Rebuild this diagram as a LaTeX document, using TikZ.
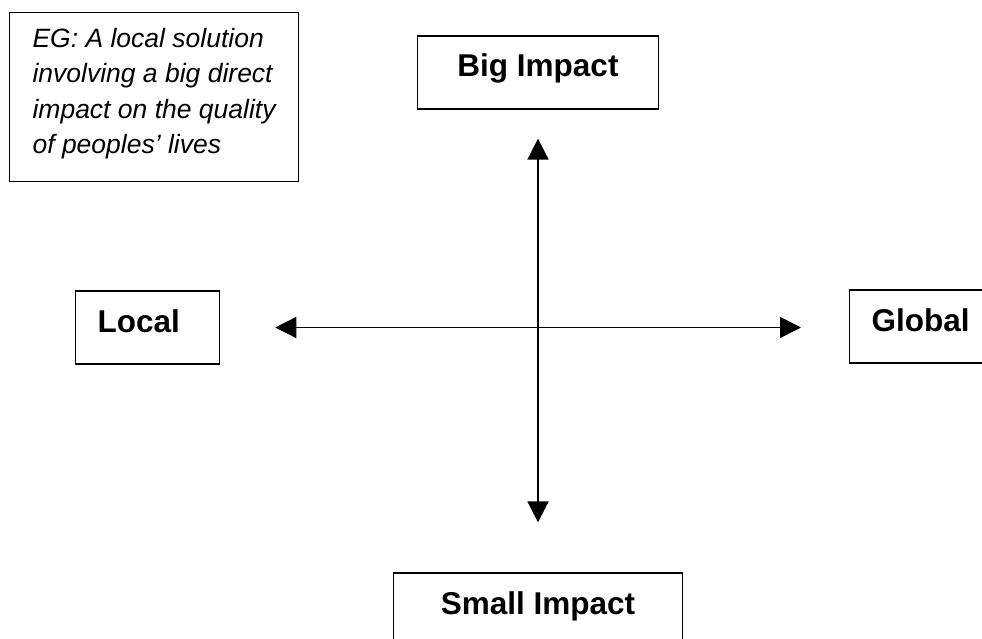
\documentclass[tikz,border=0pt]{standalone}
\usepackage{fontspec}
\setmainfont{Liberation Sans}
\usetikzlibrary{arrows.meta}

\begin{document}
\begin{tikzpicture}[x=1pt, y=-1pt,
    box/.style = {draw, line width=1.3pt, inner sep=0pt,
      font=\bfseries\fontsize{31.5}{36}\selectfont,
      text height=41pt, text depth=32pt},
    sidebox/.style = {box, inner xsep=22pt, text width=100pt, align=left},
    arrow/.style = {line width=1.5pt, {Triangle[length=21pt, width=21pt]}-{Triangle[length=21pt, width=21pt]}}]
        \def\axisX{538}
        \def\axisY{326}

        \useasboundingbox (0,0) rectangle (982,639);

        % Example note in the corner
        \node[draw, line width=1.2pt, anchor=north west, inner sep=0pt,
          minimum width=289pt, align=left, text height=141pt, text depth=28pt,
          font=\itshape\fontsize{26.5}{35.5}\selectfont] (note) at (9,12)
          {EG: A local solution\\involving a big direct\\impact on the quality\\of peoples’ lives};

        % The four ends of the axes
        \node[box, minimum width=241pt, anchor=base] (big) at (\axisX,77) {Big Impact};
        \node[box, minimum width=289pt, anchor=base] (small) at (\axisX,614) {Small Impact};
        \node[sidebox, anchor=base west] (local) at (75,332) {Local};
        \node[sidebox, anchor=base west] (global) at (849,331) {Global};

        % Axes
        \draw[arrow, shorten <=55pt, shorten >=48pt] (local.east) -- (local.east -| global.west);
        \draw[arrow, line width=1.8pt, shorten <=29pt, shorten >=50pt] (big.south) -- (small.north);
      \end{tikzpicture}
\end{document}
